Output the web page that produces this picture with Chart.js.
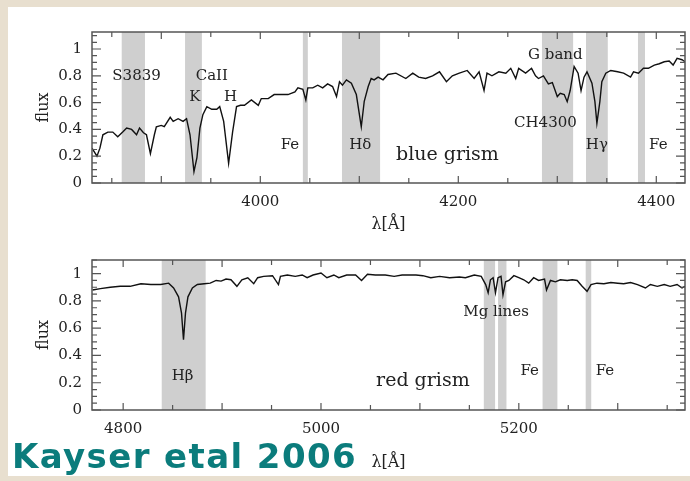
<!DOCTYPE html>
<html>
<head>
<meta charset="utf-8">
<script src="https://cdn.jsdelivr.net/npm/chart.js@4"></script>
<style>
body { margin:0; background:#e8dfcf; }
#page { position:relative; width:690px; height:481px; overflow:hidden; background:#e8dfcf; }
#sheet { position:absolute; left:8px; top:7px; width:682px; height:469px; background:#fff; }
canvas { position:absolute; left:0; }
#cite { position:absolute; left:12px; top:439px; font:bold 34px/34px "DejaVu Sans", sans-serif; color:#0b7c7c; letter-spacing:1.4px; white-space:nowrap; }
</style>
</head>
<body>
<div id="page">
  <div id="sheet"></div>
  <canvas id="blue" width="690" height="240" style="top:0px"></canvas>
  <canvas id="red" width="690" height="240" style="top:240px"></canvas>
  <div id="cite">Kayser etal 2006</div>
</div>
<script>
// blue grism spectrum (wavelength in A, normalised flux)
var blueWave = [3830,3835,3838,3841,3846,3851,3856,3861,3865,3870,3875,3878,3882,3885,3889,3893,3895,3900,3903,3909,
  3912,3917,3922,3925.5,3929,3933,3936,3939,3942,3946,3951,3956,3959,3963,3968,3972,3976,3980,3984,3991,
  3998,4001,4008,4014,4021,4028,4035,4038,4043,4046,4048,4053,4058,4063,4068,4073,4077,4080,4083,4087,
  4092,4097,4102,4105,4109,4112,4115,4119,4124,4129,4137,4147,4154,4160,4167,4174,4181,4188,4194,4201,
  4209,4216,4221,4226,4229,4234,4241,4248,4253,4258,4261,4268,4274,4278,4281,4286,4291,4295,4300,4303,
  4307,4310,4313,4317,4321,4324,4327,4330,4335,4338,4340,4343,4345,4349,4354,4361,4367,4374,4377,4382,
  4387,4392,4398,4403,4408,4413,4417,4421,4426,4429];
var blueFlux = [0.26,0.20,0.26,0.36,0.38,0.38,0.345,0.38,0.41,0.40,0.36,0.41,0.375,0.36,0.22,0.36,0.42,0.43,0.42,0.49,
  0.46,0.48,0.46,0.48,0.36,0.085,0.19,0.41,0.51,0.57,0.55,0.55,0.57,0.46,0.147,0.38,0.57,0.58,0.58,0.62,
  0.58,0.63,0.63,0.66,0.66,0.66,0.68,0.71,0.70,0.62,0.71,0.71,0.73,0.71,0.74,0.72,0.645,0.756,0.73,0.77,
  0.745,0.66,0.42,0.61,0.72,0.78,0.77,0.79,0.77,0.81,0.82,0.78,0.82,0.79,0.78,0.80,0.83,0.756,0.80,0.82,
  0.84,0.78,0.83,0.69,0.82,0.80,0.83,0.82,0.856,0.78,0.856,0.82,0.856,0.80,0.78,0.80,0.74,0.75,0.645,0.67,
  0.66,0.607,0.69,0.87,0.82,0.69,0.79,0.83,0.745,0.607,0.445,0.607,0.756,0.82,0.84,0.83,0.82,0.79,0.83,0.82,
  0.856,0.856,0.88,0.89,0.905,0.91,0.88,0.93,0.92,0.905];

// red grism spectrum
var redWave = [4769,4777,4787,4797,4807,4818,4828,4838,4846,4851,4856,4859,4861,4863,4865.5,4870,4875,4882,4888,4894,
  4899,4904,4909,4915,4920,4926,4932,4936,4942,4951,4957,4959,4966,4974,4981,4986,4992,5000,5006,5013,
  5018,5026,5035,5041,5047,5055,5065,5074,5082,5089,5096,5103,5111,5120,5130,5140,5146,5155,5162,5166.5,
  5169,5171.3,5174,5176.4,5179,5182,5184,5186.6,5190,5195,5200,5205,5210,5215,5220,5226,5228,5232,5237,5242,
  5249,5254,5259,5264,5269,5273,5279,5286,5293,5300,5306,5313,5320,5328,5333,5340,5347,5353,5360,5365,5368];
var redFlux = [0.88,0.89,0.90,0.907,0.907,0.926,0.92,0.92,0.93,0.895,0.83,0.71,0.515,0.71,0.83,0.895,0.92,0.926,0.93,0.95,
  0.945,0.96,0.955,0.907,0.955,0.97,0.926,0.97,0.98,0.985,0.92,0.98,0.99,0.98,0.99,0.97,0.99,1.005,0.97,0.99,
  0.97,0.99,0.99,0.95,0.995,0.99,0.99,0.98,0.99,0.99,0.99,0.985,0.97,0.98,0.97,0.975,0.97,0.99,0.98,0.92,
  0.86,0.955,0.97,0.86,0.97,0.98,0.845,0.94,0.95,0.985,0.97,0.955,0.93,0.97,0.95,0.96,0.88,0.95,0.94,0.955,
  0.95,0.955,0.95,0.907,0.87,0.92,0.93,0.926,0.935,0.93,0.926,0.935,0.92,0.895,0.92,0.907,0.92,0.907,0.92,0.895,0.907];

// tick positions and labelled ticks
var blueTicks = [3850,3900,3950,4000,4050,4100,4150,4200,4250,4300,4350,4400];
var redTicks = [4800,4850,4900,4950,5000,5050,5100,5150,5200,5250,5300,5350];
var labelStep = 200;
var fluxTicks = [0,0.05,0.1,0.15,0.2,0.25,0.3,0.35,0.4,0.45,0.5,0.55,0.6,0.65,0.7,0.75,0.8,0.85,0.9,0.95,1,1.05,1.1];
var fluxLabels = ['0','0.2','0.4','0.6','0.8','1'];

// index bands (start, end)
var blueBandFrom = [3860,3924,4043,4082.5,4284.5,4329,4381.5];
var blueBandTo   = [3883.5,3941,4048,4121,4316,4351,4388.6];
var redBandFrom = [4839,5164.6,5179,5224,5267.6];
var redBandTo   = [4883.4,5176,5187.5,5239,5273.2];

// labels written inside the panels
var blueNoteText = ['S3839','CaII','K','H','Fe','H\u03b4','blue grism','G band','CH4300','H\u03b3','Fe'];
var blueNoteX = [3875,3951,3934,3970,4030,4101,4189,4298,4288,4340,4402];
var blueNoteY = [0.80,0.80,0.64,0.64,0.28,0.28,0.21,0.955,0.45,0.28,0.28];
var redNoteText = ['H\u03b2','Mg lines','Fe','Fe','red grism'];
var redNoteX = [4860,5177,5211,5287,5103];
var redNoteY = [0.245,0.715,0.287,0.287,0.21];

var serif = '"DejaVu Serif", "Liberation Serif", serif';

// "0.4" style text for a flux tick, or '' if it is not one of fluxLabels
function fluxText(v) {
  var s = String(Math.round(v * 100) / 100);
  return fluxLabels.indexOf(s) >= 0 ? s : '';
}

var panelPlugin = {
  id: 'panel',
  beforeDatasetsDraw: function(chart, args, opts) {
    var ctx = chart.ctx, a = chart.chartArea, xs = chart.scales.x;
    ctx.save();
    ctx.fillStyle = '#cfcfcf';
    for (var i = 0; i < opts.from.length; i++) {
      var x1 = xs.getPixelForValue(opts.from[i]);
      var x2 = xs.getPixelForValue(opts.to[i]);
      ctx.fillRect(x1, a.top, x2 - x1, a.bottom - a.top);
    }
    ctx.restore();
  },
  afterDatasetsDraw: function(chart, args, opts) {
    var ctx = chart.ctx, a = chart.chartArea, xs = chart.scales.x, ys = chart.scales.y;
    ctx.save();
    // notes
    ctx.fillStyle = '#222';
    ctx.textAlign = 'center';
    ctx.textBaseline = 'middle';
    for (var i = 0; i < opts.text.length; i++) {
      var big = opts.text[i].indexOf('grism') >= 0;
      ctx.font = (big ? '19px ' : '15px ') + serif;
      ctx.fillText(opts.text[i], xs.getPixelForValue(opts.nx[i]), ys.getPixelForValue(opts.ny[i]));
    }
    // frame
    ctx.strokeStyle = '#555';
    ctx.lineWidth = 1.5;
    ctx.strokeRect(a.left, a.top, a.right - a.left, a.bottom - a.top);
    // inward tick marks on all four sides
    ctx.lineWidth = 1.2;
    ctx.beginPath();
    xs.ticks.forEach(function(t) {
      var px = xs.getPixelForValue(t.value);
      var len = (Math.round(t.value) % 100 === 0) ? 7 : 5;
      ctx.moveTo(px, a.bottom); ctx.lineTo(px, a.bottom - len);
      ctx.moveTo(px, a.top); ctx.lineTo(px, a.top + len);
    });
    ys.ticks.forEach(function(t) {
      var py = ys.getPixelForValue(t.value);
      var len = fluxText(t.value) ? 9 : 5;
      ctx.moveTo(a.left, py); ctx.lineTo(a.left + len, py);
      ctx.moveTo(a.right, py); ctx.lineTo(a.right - len, py);
    });
    ctx.stroke();
    ctx.restore();
  }
};

function spectrum(id, wave, flux, xmin, xmax, ymax, xticks, from, to, text, nx, ny, padTop, axisH, titlePad) {
  var pts = wave.map(function(w, i) { return {x: w, y: flux[i]}; });
  return new Chart(document.getElementById(id), {
    type: 'line',
    data: { datasets: [{ data: pts, borderColor: '#111', borderWidth: 1.4, pointRadius: 0, tension: 0 }] },
    options: {
      responsive: false,
      animation: false,
      devicePixelRatio: 1,
      layout: { padding: { top: padTop, right: 5, left: 0, bottom: 0 } },
      plugins: {
        legend: { display: false },
        tooltip: { enabled: false },
        panel: { from: from, to: to, text: text, nx: nx, ny: ny }
      },
      scales: {
        x: {
          type: 'linear', min: xmin, max: xmax,
          grid: { display: false, drawTicks: false },
          border: { display: false },
          afterBuildTicks: function(s) { s.ticks = xticks.map(function(v) { return {value: v}; }); },
          ticks: {
            autoSkip: false, maxRotation: 0, padding: 10,
            color: '#222', font: { family: serif, size: 15 },
            callback: function(v) { return (Math.round(v) % labelStep === 0) ? String(v) : ''; }
          },
          title: { display: true, text: '\u03bb[\u00c5]', color: '#222', font: { family: serif, size: 16 }, padding: { top: 0, bottom: titlePad } },
          afterFit: function(s) { s.height = axisH; }
        },
        y: {
          min: 0, max: ymax,
          grid: { display: false, drawTicks: false },
          border: { display: false },
          afterBuildTicks: function(s) { s.ticks = fluxTicks.map(function(v) { return {value: v}; }); },
          ticks: {
            autoSkip: false, padding: 10,
            color: '#222', font: { family: serif, size: 15 },
            callback: function(v) { return fluxText(v); }
          },
          title: { display: true, text: 'flux', color: '#222', font: { family: serif, size: 16 }, padding: { top: 34, bottom: 0 } },
          afterFit: function(s) { s.width = 92; }
        }
      }
    },
    plugins: [panelPlugin]
  });
}

spectrum('blue', blueWave, blueFlux, 3830, 4429, 1.127, blueTicks, blueBandFrom, blueBandTo, blueNoteText, blueNoteX, blueNoteY, 32, 57, 6);
spectrum('red', redWave, redFlux, 4768.5, 5368, 1.10, redTicks, redBandFrom, redBandTo, redNoteText, redNoteX, redNoteY, 20, 70, 8);
</script>
</body>
</html>
